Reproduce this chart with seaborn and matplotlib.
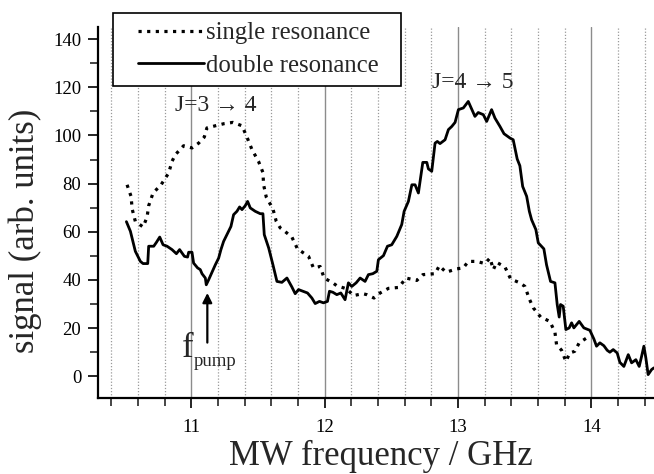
import numpy as np
import pandas as pd
import matplotlib
matplotlib.use("Agg")
import matplotlib.pyplot as plt
import seaborn as sns
from matplotlib.ticker import FixedLocator
from matplotlib.patches import Rectangle

# ---- data ----
double_x = [10.513, 10.543, 10.58, 10.618, 10.638, 10.673, 10.68, 10.718, 10.738, 10.763,
            10.788, 10.818, 10.855, 10.888, 10.912, 10.948, 10.972, 10.98, 11.005, 11.017,
            11.047, 11.067, 11.08, 11.105, 11.112, 11.13, 11.155, 11.18, 11.205, 11.222,
            11.242, 11.267, 11.297, 11.317, 11.342, 11.362, 11.38, 11.404, 11.422, 11.442,
            11.479, 11.517, 11.537, 11.547, 11.58, 11.612, 11.642, 11.679, 11.717, 11.754,
            11.779, 11.804, 11.837, 11.871, 11.904, 11.929, 11.961, 11.991, 12.021, 12.036,
            12.061, 12.091, 12.121, 12.153, 12.178, 12.203, 12.236, 12.266, 12.303, 12.328,
            12.361, 12.391, 12.403, 12.441, 12.471, 12.503, 12.541, 12.578, 12.596, 12.628,
            12.654, 12.678, 12.703, 12.736, 12.766, 12.778, 12.803, 12.828, 12.845, 12.865,
            12.903, 12.928, 12.953, 12.978, 13.003, 13.04, 13.077, 13.127, 13.152, 13.19,
            13.215, 13.252, 13.277, 13.315, 13.345, 13.39, 13.414, 13.444, 13.464, 13.485,
            13.515, 13.535, 13.552, 13.584, 13.602, 13.644, 13.664, 13.694, 13.727, 13.744,
            13.759, 13.769, 13.789, 13.809, 13.834, 13.852, 13.869, 13.909, 13.944, 13.989,
            14.019, 14.039, 14.064, 14.094, 14.119, 14.139, 14.164, 14.194, 14.214, 14.244,
            14.277, 14.302, 14.334, 14.359, 14.377, 14.394, 14.409, 14.426, 14.452, 14.469]
double_y = [64.2, 60.2, 51.9, 47.7, 46.8, 46.8, 54.0, 54.0, 55.6, 57.8,
            54.6, 54.0, 52.6, 50.9, 52.6, 49.8, 49.5, 51.5, 51.5, 47.0,
            45.0, 44.3, 42.6, 40.8, 38.0, 40.1, 43.2, 46.3, 49.1, 52.6,
            56.0, 58.8, 62.2, 67.1, 68.5, 70.3, 69.2, 70.8, 72.6, 69.9,
            68.5, 67.5, 67.5, 58.8, 53.3, 46.3, 39.4, 39.0, 40.8, 37.1,
            34.3, 36.0, 35.3, 34.6, 32.5, 30.2, 31.1, 30.5, 31.1, 35.3,
            34.9, 33.9, 34.6, 31.8, 38.8, 37.3, 38.8, 40.8, 39.4, 42.2,
            42.6, 43.6, 48.4, 50.1, 54.0, 54.6, 58.1, 63.0, 68.5, 72.6,
            79.5, 79.5, 76.1, 88.8, 88.8, 86.1, 85.1, 96.8, 97.5, 96.6,
            98.2, 102.4, 103.7, 105.4, 110.7, 111.4, 114.1, 107.9, 109.5, 108.6,
            105.8, 110.7, 107.2, 103.7, 100.7, 98.9, 98.2, 90.2, 87.4, 78.8,
            74.7, 68.5, 65.0, 60.9, 55.4, 52.9, 46.3, 39.4, 38.8, 29.8,
            24.6, 29.8, 29.1, 19.4, 20.1, 22.2, 20.1, 22.8, 20.1, 19.1,
            15.5, 12.5, 13.9, 12.7, 10.8, 10.0, 11.1, 9.7, 5.8, 4.1,
            9.0, 5.6, 6.9, 4.1, 8.3, 12.5, 7.6, 0.7, 2.8, 3.5]

single_x = [10.518, 10.548, 10.556, 10.58, 10.638, 10.668, 10.68, 10.713, 10.773, 10.83,
            10.855, 10.88, 10.942, 11.005, 11.055, 11.097, 11.117, 11.18, 11.247, 11.312,
            11.38, 11.417, 11.455, 11.504, 11.537, 11.542, 11.562, 11.612, 11.637, 11.667,
            11.692, 11.754, 11.796, 11.879, 11.916, 11.966, 11.996, 12.061, 12.091, 12.166,
            12.215, 12.286, 12.316, 12.37, 12.416, 12.478, 12.556, 12.61, 12.691, 12.736,
            12.828, 12.86, 12.91, 12.99, 13.04, 13.077, 13.14, 13.202, 13.24, 13.265,
            13.29, 13.352, 13.395, 13.464, 13.502, 13.535, 13.565, 13.62, 13.689, 13.727,
            13.739, 13.777, 13.809, 13.839, 13.876, 13.909, 13.964, 13.98]
single_y = [79.5, 74.7, 69.5, 64.3, 62.0, 66.1, 70.8, 76.1, 79.5, 84.4,
            89.2, 92.0, 95.7, 94.8, 96.8, 99.3, 103.1, 104.0, 104.9, 105.4,
            104.0, 99.3, 94.1, 89.2, 84.6, 79.5, 74.4, 69.5, 64.3, 61.6,
            60.6, 57.8, 52.9, 49.8, 45.0, 45.6, 40.8, 38.8, 37.6, 36.3,
            33.5, 34.3, 33.9, 32.5, 34.6, 36.5, 36.9, 40.8, 39.8, 42.2,
            42.6, 45.9, 43.2, 44.6, 45.0, 47.7, 47.7, 46.8, 49.1, 44.3,
            47.3, 45.4, 40.4, 38.8, 37.3, 32.1, 28.4, 24.6, 22.8, 18.3,
            13.2, 10.8, 6.2, 9.7, 10.4, 13.9, 15.9, 16.0]

series_labels = ["single resonance", "double resonance"]
x_major_ticks = [11, 12, 13, 14]
x_minor_ticks = [10.4, 10.6, 10.8, 11.2, 11.4, 11.6, 11.8, 12.2, 12.4, 12.6, 12.8,
                 13.2, 13.4, 13.6, 13.8, 14.2, 14.4]
y_major_ticks = [0, 20, 40, 60, 80, 100, 120, 140]
y_minor_ticks = [10, 30, 50, 70, 90, 110, 130]

# ---- style ----
sns.set_style("ticks")
plt.rcParams['font.family'] = ['Liberation Serif', 'DejaVu Serif']

W, H = 654, 474
fig = plt.figure(figsize=(W / 100, H / 100), dpi=100)
ax = fig.add_axes([98 / W, 1 - 398 / H, 1 - 98 / W, (398 - 27) / H])

df_single = pd.DataFrame({"x": single_x, "y": single_y})
df_double = pd.DataFrame({"x": double_x, "y": double_y})

sns.lineplot(data=df_single, x="x", y="y", ax=ax, color="black", lw=2.3,
             linestyle=(0, (1, 1.7)), estimator=None, label=series_labels[0], zorder=3)
sns.lineplot(data=df_double, x="x", y="y", ax=ax, color="black", lw=2.0,
             estimator=None, label=series_labels[1], zorder=3)

ax.set_xlim(10.3, 14.47)
ax.set_ylim(-9, 145)

ax.xaxis.set_major_locator(FixedLocator(x_major_ticks))
ax.xaxis.set_minor_locator(FixedLocator(x_minor_ticks))
ax.yaxis.set_major_locator(FixedLocator(y_major_ticks))
ax.yaxis.set_minor_locator(FixedLocator(y_minor_ticks))

# vertical grid: solid at integers, dotted at 0.2 GHz
ax.grid(False)
ax.xaxis.grid(True, which="major", color="#8c8c8c", lw=1.0, ls="-", zorder=0)
ax.xaxis.grid(True, which="minor", color="#9a9a9a", lw=0.9, ls=(0, (1, 1.5)), zorder=0)
ax.set_axisbelow(True)

for s in ["top", "right"]:
    ax.spines[s].set_visible(False)
for s in ["left", "bottom"]:
    ax.spines[s].set_linewidth(1.6)
    ax.spines[s].set_color("black")

ax.tick_params(axis="both", which="major", direction="out", length=7, width=1.2,
               labelsize=13.5, colors="black", pad=5)
ax.tick_params(axis="both", which="minor", direction="out", length=6, width=1.2)
ax.tick_params(axis="x", which="major", pad=8)

ax.set_xlabel("MW frequency / GHz", fontsize=25)
ax.set_ylabel("signal (arb. units)", fontsize=25)
ax.xaxis.set_label_coords(0.508, -0.114)
ax.yaxis.set_label_coords(-0.10, 0.45)

# legend: frame drawn as a box, entries without frame
frame = Rectangle((113 / W, 1 - 86 / H), 288 / W, 73 / H, transform=fig.transFigure,
                  facecolor="white", edgecolor="black", lw=1.2, zorder=4, clip_on=False)
ax.add_patch(frame)
leg = ax.legend(loc="upper left", bbox_to_anchor=(138 / W, 1 - 22 / H),
                bbox_transform=fig.transFigure, borderaxespad=0, borderpad=0,
                fontsize=17.8, frameon=False, handlelength=2.65, handletextpad=0.12,
                labelspacing=0.4)
leg.set_zorder(5)

ax.text(11.18, 112.5, "J=3 \u2192 4", fontsize=17, ha="center", va="center")
ax.text(13.11, 122, "J=4 \u2192 5", fontsize=17, ha="center", va="center")

ax.annotate("", xy=(11.12, 34.6), xytext=(11.12, 14.0),
            arrowprops=dict(arrowstyle="-|>", color="black", lw=1.6,
                            mutation_scale=14, shrinkA=0, shrinkB=0))
ax.text(10.93, 8.2, "f", fontsize=25, ha="left", va="baseline")
ax.text(11.015, 4.2, "pump", fontsize=13.5, ha="left", va="baseline")

fig.savefig("out.png", dpi=100)
